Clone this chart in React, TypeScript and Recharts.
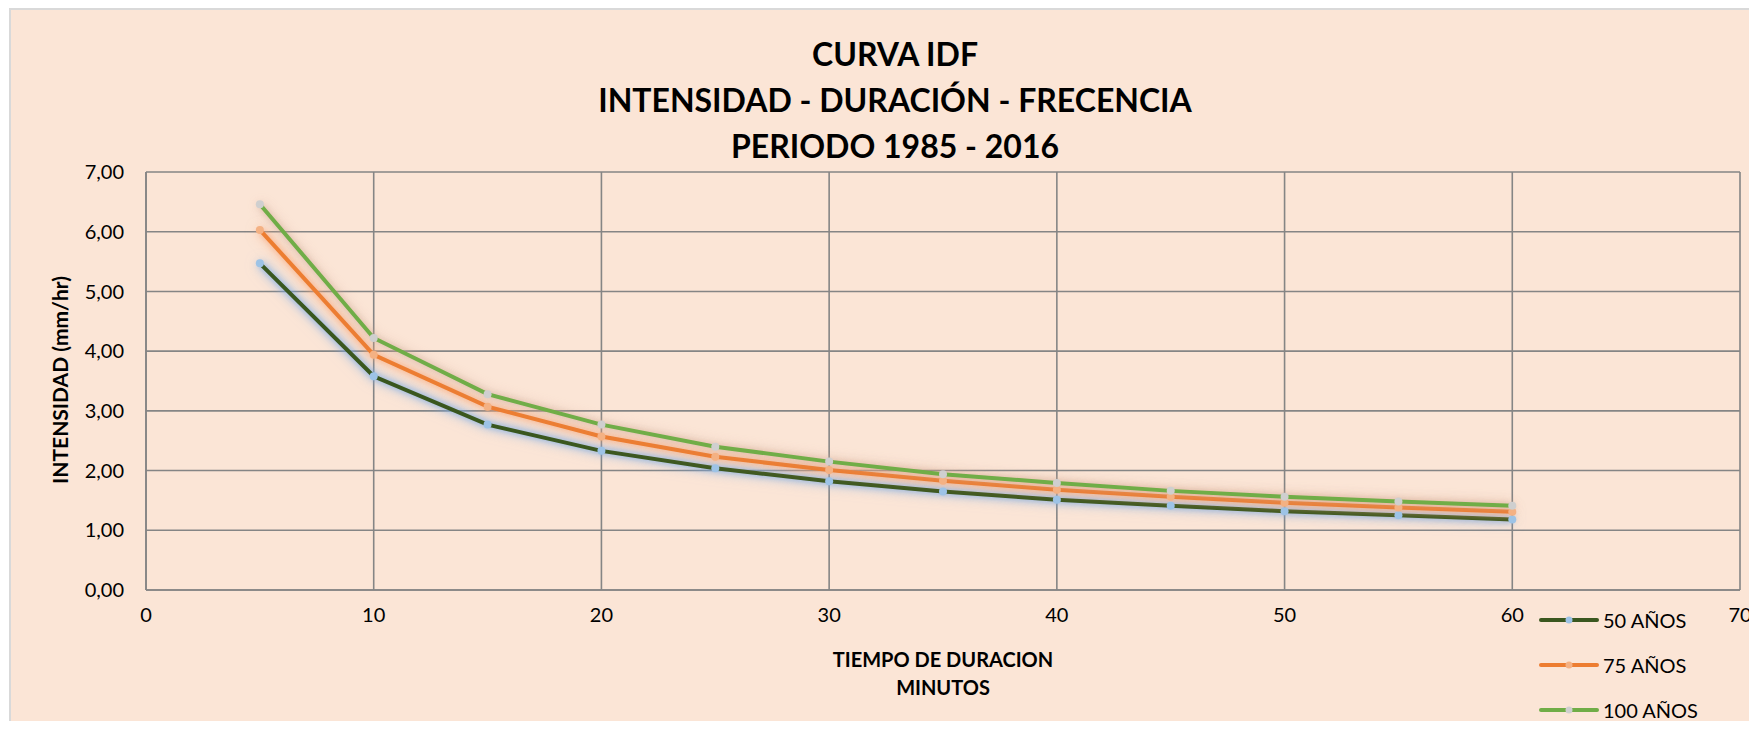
import { LineChart, Line, XAxis, YAxis, CartesianGrid } from 'recharts'

const durations = [5, 10, 15, 20, 25, 30, 35, 40, 45, 50, 55, 60]
const i50 = [5.47, 3.58, 2.77, 2.33, 2.04, 1.82, 1.65, 1.51, 1.41, 1.32, 1.25, 1.18]
const i75 = [6.03, 3.94, 3.07, 2.57, 2.23, 2.01, 1.83, 1.68, 1.56, 1.46, 1.38, 1.31]
const i100 = [6.46, 4.22, 3.28, 2.77, 2.4, 2.15, 1.94, 1.79, 1.66, 1.56, 1.48, 1.41]
const seriesNames = ['50 AÑOS', '75 AÑOS', '100 AÑOS']
const xTicks = [0, 10, 20, 30, 40, 50, 60, 70]
const yTicks = [0, 1, 2, 3, 4, 5, 6, 7]
const titleLines = ['CURVA IDF', 'INTENSIDAD - DURACIÓN - FRECENCIA', 'PERIODO 1985 - 2016']
const xLabelLines = ['TIEMPO DE DURACION', 'MINUTOS']
const yLabel = 'INTENSIDAD (mm/hr)'

const data = durations.map((t, i) => ({ t, a50: i50[i], a75: i75[i], a100: i100[i] }))

const series = [
  { key: 'a50', name: seriesNames[0], color: '#3A571F', dot: '#9DC3E6', glow: 'glow-blue' },
  { key: 'a75', name: seriesNames[1], color: '#ED7D31', dot: '#F4B183', glow: 'glow-orange' },
  { key: 'a100', name: seriesNames[2], color: '#70AD47', dot: '#CFCFCF', glow: 'glow-grey' },
]

const W = 1748
const H = 713
const font = 'Lato, "Open Sans", sans-serif'
const grid = '#858585'

const fmt = (v: number) => v.toFixed(2).replace('.', ',')

export default function App() {
  return (
    <div
      style={{
        position: 'relative',
        marginLeft: 1,
        width: W,
        height: H,
        background: '#FBE5D6',
        boxShadow: 'inset 2px 2px 0 0 #D9D9D9',
        fontFamily: font,
        color: '#000',
      }}
    >
      <style>{`
        html, body { overflow: hidden; }
        .recharts-surface { overflow: visible; }
        .glow-blue { filter: drop-shadow(0 0 3px rgba(120,170,230,1)) drop-shadow(0 0 6px rgba(120,170,230,0.6)); }
        .glow-orange { filter: drop-shadow(0 0 3px rgba(245,165,120,0.9)) drop-shadow(0 0 6px rgba(245,165,120,0.5)); }
        .glow-grey { filter: drop-shadow(0 0 3px rgba(205,165,145,0.7)) drop-shadow(0 0 6px rgba(205,165,145,0.4)); }
      `}</style>

      {titleLines.map((line, i) => (
        <div
          key={line}
          style={{
            position: 'absolute',
            left: 886 - 500,
            width: 1000,
            top: 46 + i * 46 - 20,
            textAlign: 'center',
            fontWeight: 700,
            fontSize: 32,
            lineHeight: '40px',
          }}
        >
          {line}
        </div>
      ))}

      <LineChart
        width={W}
        height={H}
        data={data}
        margin={{ top: 164, right: 17, bottom: 91, left: 57 }}
      >
        <CartesianGrid stroke={grid} strokeWidth={1.6} />
        <XAxis
          dataKey="t"
          type="number"
          domain={[0, 70]}
          ticks={xTicks}
          interval={0}
          height={40}
          tickLine={false}
          axisLine={{ stroke: grid, strokeWidth: 1.6 }}
          tick={{ fill: '#000', fontSize: 20, fontFamily: font }}
          tickMargin={12}
        />
        <YAxis
          type="number"
          domain={[0, 7]}
          ticks={yTicks}
          width={80}
          tickLine={false}
          axisLine={{ stroke: grid, strokeWidth: 1.6 }}
          tick={{ fill: '#000', fontSize: 20, fontFamily: font }}
          tickFormatter={fmt}
          tickMargin={16}
        />
        {series.map((s) => (
          <Line
            key={s.key}
            className={s.glow}
            dataKey={s.key}
            name={s.name}
            type="linear"
            stroke={s.color}
            strokeWidth={4}
            dot={{ r: 4, fill: s.dot, stroke: 'none' }}
            activeDot={false}
            isAnimationActive={false}
          />
        ))}
      </LineChart>

      <div
        style={{
          position: 'absolute',
          left: 51 - 150,
          top: 372 - 13,
          width: 300,
          height: 26,
          textAlign: 'center',
          transform: 'rotate(-90deg)',
          fontWeight: 700,
          fontSize: 21,
          lineHeight: '26px',
        }}
      >
        {yLabel}
      </div>

      {xLabelLines.map((line, i) => (
        <div
          key={line}
          style={{
            position: 'absolute',
            left: 934 - 200,
            width: 400,
            top: 651 + i * 28 - 12,
            textAlign: 'center',
            fontWeight: 700,
            fontSize: 20,
            lineHeight: '24px',
          }}
        >
          {line}
        </div>
      ))}

      {series.map((s, i) => (
        <div
          key={s.key}
          style={{
            position: 'absolute',
            left: 1529,
            top: 612 + i * 45 - 13,
            height: 26,
            display: 'flex',
            alignItems: 'center',
            fontSize: 20,
          }}
        >
          <svg width={62} height={12} style={{ marginRight: 3 }}>
            <line x1={3} y1={6} x2={59} y2={6} stroke={s.color} strokeWidth={4} strokeLinecap="round" />
            <circle cx={31} cy={6} r={3.5} fill={s.dot} />
          </svg>
          <span>{s.name}</span>
        </div>
      ))}
    </div>
  )
}
